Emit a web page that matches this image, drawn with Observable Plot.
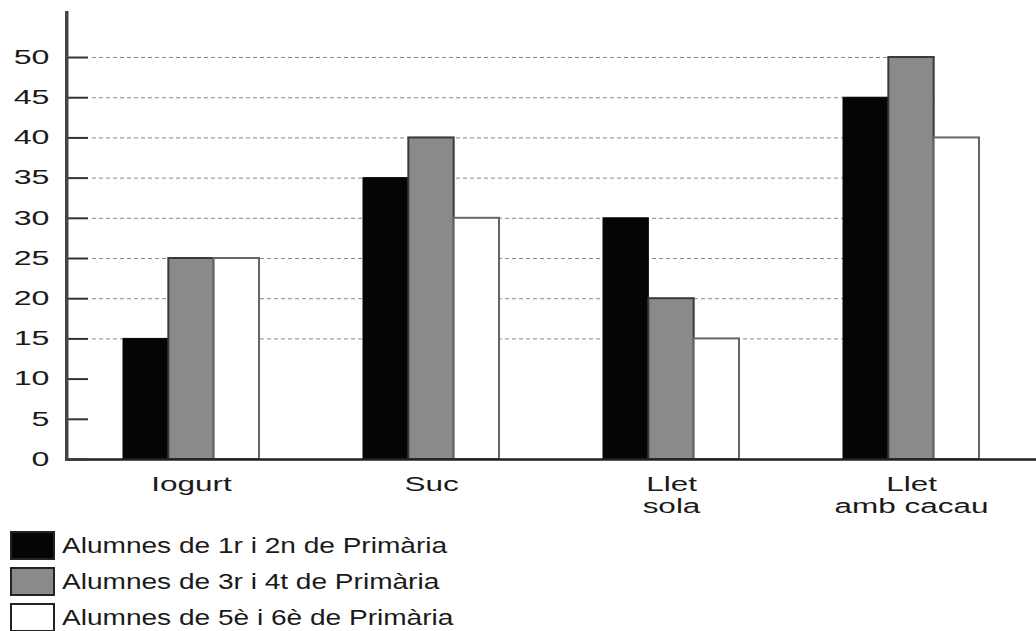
<!DOCTYPE html>
<html>
<head>
<meta charset="utf-8">
<script src="https://cdn.jsdelivr.net/npm/d3@7"></script>
<script src="https://cdn.jsdelivr.net/npm/@observablehq/plot@0.6"></script>
<style>
  html, body { margin: 0; padding: 0; background: #fff; overflow: hidden; }
  #chart { width: 1036px; }
  .legend { padding: 11px 0 0 10px; font-family: "Liberation Sans", Arial, sans-serif; color: #1a1a1a; }
  .row { display: flex; align-items: center; height: 29px; margin-bottom: 7px; }
  .sw { box-sizing: border-box; width: 45px; height: 29px; border: 2px solid #222; }
  .lab { margin-left: 7px; font-size: 22px; line-height: 1; display: inline-block; transform: scaleX(1.275); transform-origin: left center; white-space: nowrap; }
</style>
</head>
<body>
<div id="chart"></div>
<script>
// ---- data ----
const categories = ["Iogurt", "Suc", "Llet\nsola", "Llet\namb cacau"];
const series = [
  "Alumnes de 1r i 2n de Primària",
  "Alumnes de 3r i 4t de Primària",
  "Alumnes de 5è i 6è de Primària"
];
const values1r2n = [15, 35, 30, 45];
const values3r4t = [25, 40, 20, 50];
const values5e6e = [25, 30, 15, 40];
const yTicks = [0, 5, 10, 15, 20, 25, 30, 35, 40, 45, 50];
const gridTicks = [15, 20, 25, 30, 35, 40, 45, 50];

const seriesValues = [values1r2n, values3r4t, values5e6e];
const fills = ["#050505", "#8a8a8a", "#ffffff"];
const strokes = ["#050505", "#3a3a3a", "#666666"];

const table = [];
series.forEach((s, i) => categories.forEach((c, j) => table.push({series: s, si: i, category: c, value: seriesValues[i][j]})));

// ---- layout ----
const W = 1036, H = 520, mL = 66, mR = 0, mT = 12, mB = 61;
const padIn = 0.435, padOut = 0.2325;
const band = d3.scaleBand().domain(categories).range([mL, W - mR]).paddingInner(padIn).paddingOuter(padOut);
const third = band.bandwidth() / 3;
const frameW = W - mL - mR;

const barMarks = series.map((s, i) =>
  Plot.barY(table.filter(d => d.si === i), {
    x: "category", y: "value",
    fill: fills[i], stroke: strokes[i], strokeWidth: i === 0 ? 1 : 2,
    insetLeft: i * third, insetRight: (2 - i) * third
  })
);

const plot = Plot.plot({
  width: W, height: H,
  marginLeft: mL, marginRight: mR, marginTop: mT, marginBottom: mB,
  style: {fontFamily: "Liberation Sans, Arial, sans-serif", color: "#1a1a1a", background: "#fff"},
  x: {domain: categories, paddingInner: padIn, paddingOuter: padOut},
  y: {domain: [0, 55.6]},
  marks: [
    Plot.ruleY(gridTicks, {stroke: "#8a8a8a", strokeWidth: 1, strokeDasharray: "4,3", insetLeft: 26, insetRight: 101}),
    ...barMarks,
    Plot.ruleY([0], {stroke: "#222", strokeWidth: 2.5}),
    Plot.ruleY(yTicks, {stroke: "#333", strokeWidth: 2, insetRight: frameW - 22}),
    Plot.frame({stroke: "#444", strokeWidth: 3, insetRight: frameW - 0.5}),
    Plot.axisY(yTicks, {tickSize: 0, tickPadding: 17, fontSize: 19.5, label: null}),
    Plot.axisX({tickSize: 0, tickPadding: 16, fontSize: 21, lineHeight: 1.05, label: null})
  ]
});
document.getElementById("chart").appendChild(plot);

// widen tick labels horizontally to match the reference's wide lettering
function stretch(selector, s) {
  plot.querySelectorAll(selector).forEach(t => {
    const xa = t.getAttribute("x");
    const x = xa && !/em$/.test(xa) ? +xa || 0 : 0;
    if (x) {
      t.removeAttribute("x");
      t.querySelectorAll("tspan").forEach(ts => { if (ts.hasAttribute("x")) ts.setAttribute("x", 0); });
    }
    const tr = t.getAttribute("transform") || "";
    t.setAttribute("transform", `${tr} translate(${x},0) scale(${s},1)`);
  });
}
stretch('g[aria-label="y-axis tick label"] text', 1.65);
stretch('g[aria-label="x-axis tick label"] text', 1.5);

// legend
const legend = document.createElement("div");
legend.className = "legend";
series.forEach((s, i) => {
  const row = document.createElement("div");
  row.className = "row";
  const sw = document.createElement("span");
  sw.className = "sw";
  sw.style.background = fills[i];
  const lab = document.createElement("span");
  lab.className = "lab";
  lab.textContent = s;
  row.appendChild(sw); row.appendChild(lab);
  legend.appendChild(row);
});
document.body.appendChild(legend);
</script>
</body>
</html>
